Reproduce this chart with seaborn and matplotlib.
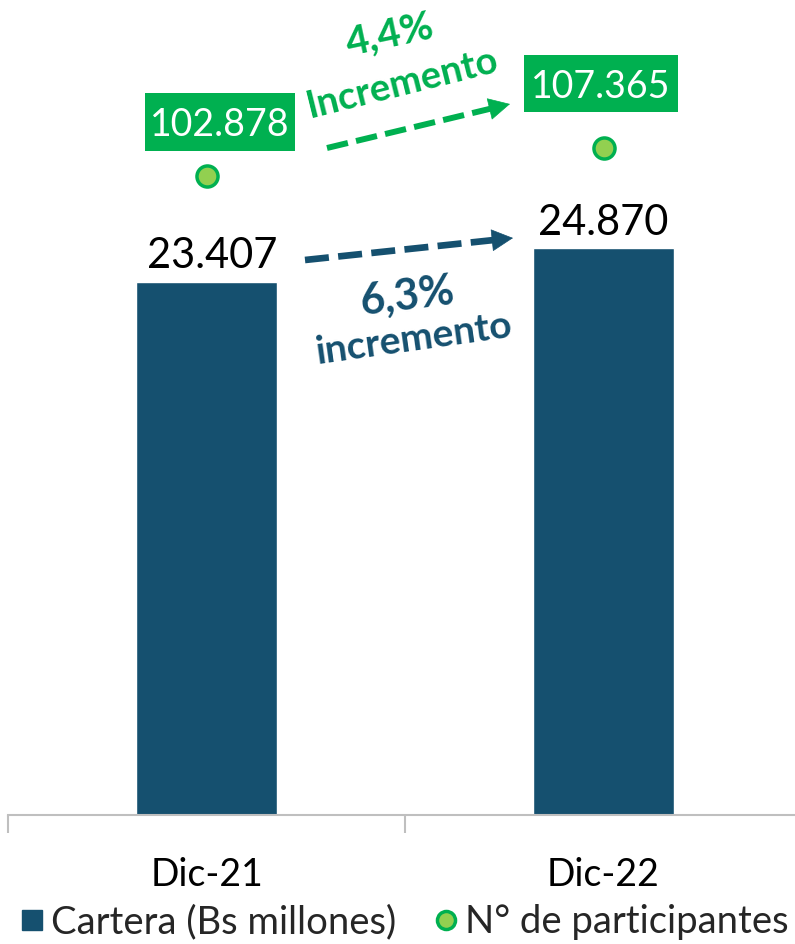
import matplotlib
matplotlib.use("Agg")
import matplotlib.pyplot as plt
import seaborn as sns
import pandas as pd
from matplotlib.lines import Line2D
from matplotlib.patches import Rectangle
from matplotlib.transforms import IdentityTransform
from matplotlib.ticker import FixedLocator

# Data
periods = ["Dic-21", "Dic-22"]
cartera = [23407, 24870]            # Bs millones
participantes = [102878, 107365]    # N° de participantes
cartera_labels = ["23.407", "24.870"]
participantes_labels = ["102.878", "107.365"]
cartera_growth = "6,3%"
participantes_growth = "4,4%"

BAR_COLOR = "#15506F"
GREEN = "#00B050"
DOT_FILL = "#92D050"
FONT = ["Lato", "DejaVu Sans"]
W, H = 795, 944

sns.set_theme(style="white")
plt.rcParams["font.family"] = FONT

df = pd.DataFrame({"periodo": periods, "cartera": cartera, "participantes": participantes})

fig = plt.figure(figsize=(W / 100, H / 100), dpi=100)
ax = fig.add_axes([8 / W, 129 / H, 794 / W, 815 / H])

sns.barplot(data=df, x="periodo", y="cartera", color=BAR_COLOR, width=0.353,
            saturation=1, ax=ax)
ax.set_xlim(-0.5, 1.5)
ax.set_ylim(0, 35770)
ax.set_xlabel("")
ax.set_ylabel("")
ax.set_yticks([])
for s in ["top", "left", "right"]:
    ax.spines[s].set_visible(False)
ax.spines["bottom"].set_color("#BFBFBF")
ax.spines["bottom"].set_linewidth(1.5)
ax.xaxis.set_minor_locator(FixedLocator([-0.5, 0.5, 1.5]))
ax.tick_params(axis="x", which="minor", length=13, width=1.5, color="#BFBFBF",
               bottom=True)
ax.tick_params(axis="x", which="major", length=0, pad=30, labelsize=27,
               labelcolor="black")

# Bar value labels
for i, (v, lab, dx) in enumerate(zip(cartera, cartera_labels, [0.015, 0.0])):
    ax.text(i + dx, v + 280, lab, ha="center", va="bottom", fontsize=30,
            color="black")

# Secondary axis: participants
ax2 = ax.twinx()
sns.scatterplot(x=[0, 1], y=participantes, ax=ax2, s=230, color=DOT_FILL,
                edgecolor=GREEN, linewidth=2.5, zorder=5, legend=False)
ax2.set_ylim(0, 131130)
ax2.set_yticks([])
ax2.set_ylabel("")
for s in ["top", "left", "right", "bottom"]:
    ax2.spines[s].set_visible(False)

# Green value boxes above the points (offsets and sizes in pixels)
box_offsets = [(13, 54), (-3, 64)]
box_sizes = [(150, 58), (154, 57)]
for i, (v, lab) in enumerate(zip(participantes, participantes_labels)):
    px, py = ax2.transData.transform((i, v))
    cx, cy = px + box_offsets[i][0], py + box_offsets[i][1]
    bw, bh = box_sizes[i]
    fig.add_artist(Rectangle((cx - bw / 2, cy - bh / 2), bw, bh,
                             transform=IdentityTransform(), fc=GREEN, ec="none",
                             zorder=6))
    fig.text(cx, cy, lab, transform=IdentityTransform(), ha="center",
             va="center_baseline", fontsize=27, color="white", zorder=7)


def dashed_arrow(x0, y0, x1, y1, color, lw):
    # dashed shaft plus solid head, in pixels (origin top-left)
    head = 20.0
    dx, dy = x1 - x0, y1 - y0
    length = (dx ** 2 + dy ** 2) ** 0.5
    bx = x1 - dx * head / length
    by = y1 - dy * head / length
    fig.add_artist(Line2D([x0 / W, bx / W], [1 - y0 / H, 1 - by / H],
                          color=color, lw=lw, ls=(0, (3.6, 1.4)),
                          solid_capstyle="butt", dash_capstyle="butt"))
    ax.annotate("", xy=(x1, H - y1), xycoords="figure pixels",
                xytext=(bx - dx * 1.5 / length, H - (by - dy * 1.5 / length)),
                textcoords="figure pixels",
                arrowprops=dict(arrowstyle="-|>,head_length=1.45,head_width=0.75",
                                mutation_scale=10, color=color, lw=0.5,
                                shrinkA=0, shrinkB=0))


dashed_arrow(327, 148, 510, 104, GREEN, 4.3)
dashed_arrow(305, 260, 513, 238, BAR_COLOR, 4.8)

fig.text(390 / W, 1 - 35 / H, participantes_growth, ha="center", va="center",
         rotation=12, fontsize=29, fontweight="bold", color=GREEN)
fig.text(403 / W, 1 - 84 / H, "Incremento", ha="center", va="center",
         rotation=14, fontsize=27.5, fontweight="bold", color=GREEN)
fig.text(407 / W, 1 - 296 / H, cartera_growth, ha="center", va="center",
         rotation=7, fontsize=31, fontweight="bold", color=BAR_COLOR)
fig.text(413 / W, 1 - 339 / H, "incremento", ha="center", va="center",
         rotation=8, fontsize=28, fontweight="bold", color=BAR_COLOR)

# Legend
handles = [
    Line2D([], [], marker="s", ls="none", markersize=15, color=BAR_COLOR),
    Line2D([], [], marker="o", ls="none", markersize=13, markerfacecolor=DOT_FILL,
           markeredgecolor=GREEN, markeredgewidth=2.5),
]
fig.legend(handles, ["Cartera (Bs millones)", "N° de participantes"], ncol=2,
           loc="lower left", bbox_to_anchor=(17 / W, 4 / H), frameon=False,
           fontsize=27.5, handlelength=0.8, handletextpad=0.1, columnspacing=0.9,
           borderpad=0, borderaxespad=0)

fig.savefig("out.png", dpi=100)
